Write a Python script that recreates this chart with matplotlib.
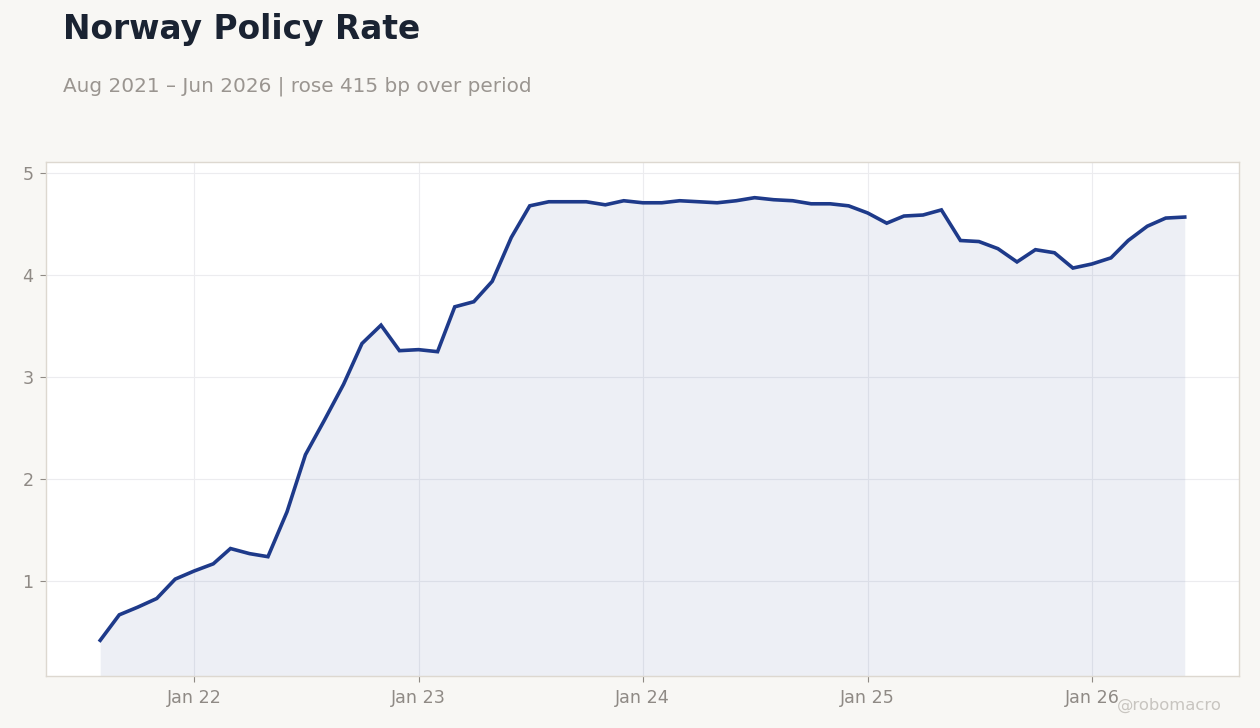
import matplotlib
matplotlib.use('Agg')
import matplotlib.pyplot as plt
import matplotlib.dates as mdates
import pandas as pd

months = pd.date_range('2021-08-01', '2026-06-01', freq='MS')
rate = [0.42, 0.67, 0.745, 0.83, 1.02, 1.10, 1.17, 1.32, 1.27, 1.24,
        1.68, 2.24, 2.58, 2.93, 3.33, 3.51, 3.26, 3.27, 3.25, 3.69,
        3.74, 3.94, 4.37, 4.68, 4.72, 4.72, 4.72, 4.69, 4.73, 4.71,
        4.71, 4.73, 4.72, 4.71, 4.73, 4.76, 4.74, 4.73, 4.70, 4.70,
        4.68, 4.61, 4.51, 4.58, 4.59, 4.64, 4.34, 4.33, 4.26, 4.13,
        4.25, 4.22, 4.07, 4.11, 4.17, 4.34, 4.48, 4.56, 4.57]
y_ticks = [1, 2, 3, 4, 5]

title = 'Norway Policy Rate'
subtitle = 'Aug 2021 – Jun 2026 | rose 415 bp over period'

bg = '#f8f7f4'
line_col = '#1e3a8a'
text_grey = '#8f8a85'

fig = plt.figure(figsize=(12.6, 7.28), dpi=100, facecolor=bg)
ax = fig.add_axes([0.0365, 0.0714, 0.9468, 0.7061])
ax.set_facecolor('white')

ax.fill_between(months, rate, 0, color=line_col, alpha=0.08, linewidth=0)
ax.plot(months, rate, color=line_col, linewidth=2.6, solid_joinstyle='miter')

ax.set_ylim(0.07, 5.11)
ax.margins(x=0.05)
ax.set_yticks(y_ticks)
ax.xaxis.set_major_locator(mdates.YearLocator(month=1))
ax.xaxis.set_major_formatter(mdates.DateFormatter('Jan %y'))

ax.grid(True, color='#ececef', linewidth=0.8)
ax.set_axisbelow(True)
for s in ax.spines.values():
    s.set_color('#ddd8d0')
    s.set_linewidth(1.0)
ax.tick_params(colors=text_grey, labelsize=12.6, length=4, width=0.8, pad=5)
for lab in ax.get_xticklabels() + ax.get_yticklabels():
    lab.set_color(text_grey)

fig.text(0.05, 0.960, title, fontsize=23.7, fontweight='bold', color='#1a2332',
         va='center', ha='left')
fig.text(0.05, 0.882, subtitle, fontsize=14.4, color='#9a9590',
         va='center', ha='left')
fig.text(0.97, 0.031, '@robomacro', fontsize=11.8, color='#c8c5c0',
         va='center', ha='right')

fig.savefig('out.png', dpi=100, facecolor=bg)
